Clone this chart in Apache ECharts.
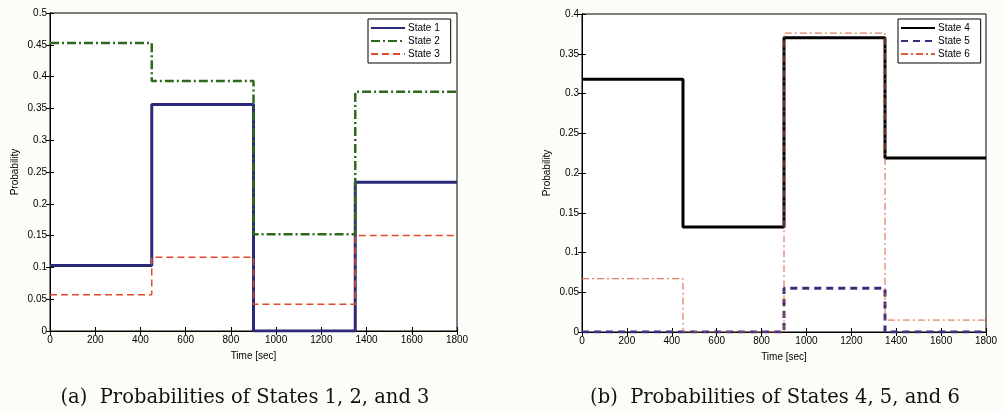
<!DOCTYPE html>
<html>
<head>
<meta charset="utf-8">
<script src="https://cdn.jsdelivr.net/npm/echarts@6/dist/echarts.min.js"></script>
<style>
  html, body { margin: 0; padding: 0; background: #fdfdf8; }
  #chart { width: 1002px; height: 413px; }
</style>
</head>
<body>
<div id="chart"></div>
<script>
// time at which each interval starts, plus the end of the run
var stepTimes = [0, 450, 900, 1350];
var endTime = 1800;

// probabilities per interval
var state1 = [0.103, 0.356, 0.0, 0.234];
var state2 = [0.453, 0.393, 0.152, 0.376];
var state3 = [0.057, 0.116, 0.042, 0.150];
var state4 = [0.318, 0.132, 0.370, 0.219];
var state5 = [0.0, 0.0, 0.055, 0.0];
var state6 = [0.067, 0.0, 0.376, 0.015];

function toSteps(vals) {
  var pts = stepTimes.map(function (t, i) { return [t, vals[i]]; });
  pts.push([endTime, vals[vals.length - 1]]);
  return pts;
}

var font = "Liberation Sans";
var chart = echarts.init(document.getElementById("chart"));

function xAx(grid, top) {
  return {
    type: "value", gridIndex: grid, min: 0, max: 1800, interval: 200,
    position: top ? "top" : "bottom",
    axisLine: { lineStyle: { color: "#000", width: 1 } },
    axisTick: { inside: true, length: 4, lineStyle: { color: "#000" } },
    axisLabel: { show: !top, color: "#000", fontSize: 10, fontFamily: font, margin: 4,
      formatter: function (v) { return String(v); } },
    splitLine: { show: false },
    name: top ? "" : "Time [sec]",
    nameLocation: "middle", nameGap: 20,
    nameTextStyle: { color: "#000", fontSize: 10, fontFamily: font }
  };
}
function yAx(grid, max, right) {
  return {
    type: "value", gridIndex: grid, min: 0, max: max, interval: 0.05,
    position: right ? "right" : "left",
    axisLine: { show: true, lineStyle: { color: "#000", width: 1 } },
    axisTick: { show: true, inside: true, length: 4, lineStyle: { color: "#000" } },
    axisLabel: { show: !right, color: "#000", fontSize: 10, fontFamily: font, margin: 3,
      formatter: function (v) { return String(Math.round(v * 100) / 100); } },
    splitLine: { show: false },
    name: right ? "" : "Probability",
    nameLocation: "middle", nameGap: 30, nameRotate: 90,
    nameTextStyle: { color: "#000", fontSize: 10, fontFamily: font }
  };
}
function line(name, vals, xi, yi, color, width, type) {
  return {
    name: name, type: "line", step: "end", xAxisIndex: xi, yAxisIndex: yi,
    data: toSteps(vals), symbol: "none", animation: false,
    lineStyle: { color: color, width: width, type: type },
    itemStyle: { color: color }
  };
}
function legendBox(names, left) {
  return {
    data: names, orient: "vertical", left: left, top: 19,
    itemWidth: 34, itemHeight: 10, itemGap: 3,
    itemStyle: { opacity: 0 },
    padding: [4, 11, 4, 2], borderColor: "#000", borderWidth: 1, borderRadius: 0,
    backgroundColor: "#fff",
    textStyle: { color: "#000", fontSize: 10, fontFamily: font, padding: [0, 0, 0, -2] }
  };
}

var option = {
  backgroundColor: "#fdfdf8",
  grid: [
    { left: 50, top: 13, width: 407, height: 318, show: true, borderColor: "#000", backgroundColor: "#fff" },
    { left: 582, top: 14, width: 404, height: 318, show: true, borderColor: "#000", backgroundColor: "#fff" }
  ],
  xAxis: [xAx(0, false), xAx(0, true), xAx(1, false), xAx(1, true)],
  yAxis: [yAx(0, 0.5, false), yAx(0, 0.5, true), yAx(1, 0.4, false), yAx(1, 0.4, true)],
  legend: [
    legendBox(["State 1", "State 2", "State 3"], 368),
    legendBox(["State 4", "State 5", "State 6"], 898)
  ],
  series: [
    line("State 1", state1, 0, 0, "#2b2a78", 3, "solid"),
    line("State 2", state2, 0, 0, "#2f6a1c", 2.5, [9, 3, 2, 3]),
    line("State 3", state3, 0, 0, "#e2482a", 1.5, [7, 4]),
    line("State 4", state4, 2, 2, "#000000", 3, "solid"),
    line("State 5", state5, 2, 2, "#3a2d80", 3, [7, 5]),
    line("State 6", state6, 2, 2, "#d8603a", 1, [7, 3, 2, 3])
  ],
  graphic: [
    { type: "text", x: 245, y: 398, style: { text: "(a)  Probabilities of States 1, 2, and 3",
      font: "19.5px 'DejaVu Serif'", fill: "#111", align: "center", verticalAlign: "middle" } },
    { type: "text", x: 775, y: 398, style: { text: "(b)  Probabilities of States 4, 5, and 6",
      font: "19.5px 'DejaVu Serif'", fill: "#111", align: "center", verticalAlign: "middle" } }
  ]
};
chart.setOption(option);
</script>
</body>
</html>
